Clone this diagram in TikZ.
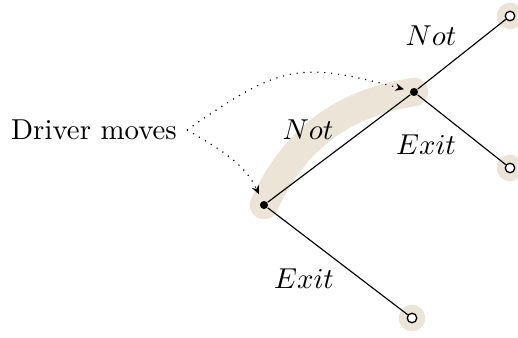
\documentclass[tikz,border=0pt]{standalone}
\usetikzlibrary{arrows.meta}
\definecolor{hl}{RGB}{236,228,215}
\begin{document}
\begin{tikzpicture}[x=0.347pt,y=-0.347pt,
  inner/.style={circle,fill=black,inner sep=0pt,minimum size=2.8pt},
  leaf/.style={circle,draw=black,fill=white,inner sep=0pt,minimum size=3.3pt,line width=0.45pt},
  halo/.style={circle,fill=hl,inner sep=0pt,minimum size=9.2pt},
  band/.style={draw=hl,line width=9.9pt,line cap=round},
  edge/.style={draw=black,line width=0.4pt},
  move/.style={dotted,line width=0.4pt,-{Stealth[length=3pt,width=2.6pt]}}]
\useasboundingbox (0,0) rectangle (518,337);
\coordinate (Rc) at (264,205);
\coordinate (Mc) at (414,92);
\coordinate (L1c) at (510,16);
\coordinate (L2c) at (510,168);
\coordinate (L3c) at (412,318);
% highlight
\path[band] (Rc) to[bend left=28] (Mc);
\node[halo] (h1) at (L1c) {};
\node[halo] (h2) at (L2c) {};
\node[halo] (h3) at (L3c) {};
% tree
\node[inner] (R) at (Rc) {};
\node[inner] (M) at (Mc) {};
\node[leaf] (L1) at (L1c) {};
\node[leaf] (L2) at (L2c) {};
\node[leaf] (L3) at (L3c) {};
\path[edge] (R) -- (M);
\path[edge] (R) -- (L3);
\path[edge] (M) -- (L1);
\path[edge] (M) -- (L2);
\node (n1) at (308,130) {$Not$};
\node (e1) at (304,279) {$Exit$};
\node (n2) at (431,36) {$Not$};
\node (e2) at (426,145) {$Exit$};
% driver
\node[anchor=east] (drv) at (187,130) {Driver moves};
\draw[move,shorten >=2pt] (drv.east) to[out=35,in=165,looseness=1.3] (M);
\draw[move,shorten >=2.5pt] (drv.east) to[out=-30,in=115] (R);
\end{tikzpicture}
\end{document}
